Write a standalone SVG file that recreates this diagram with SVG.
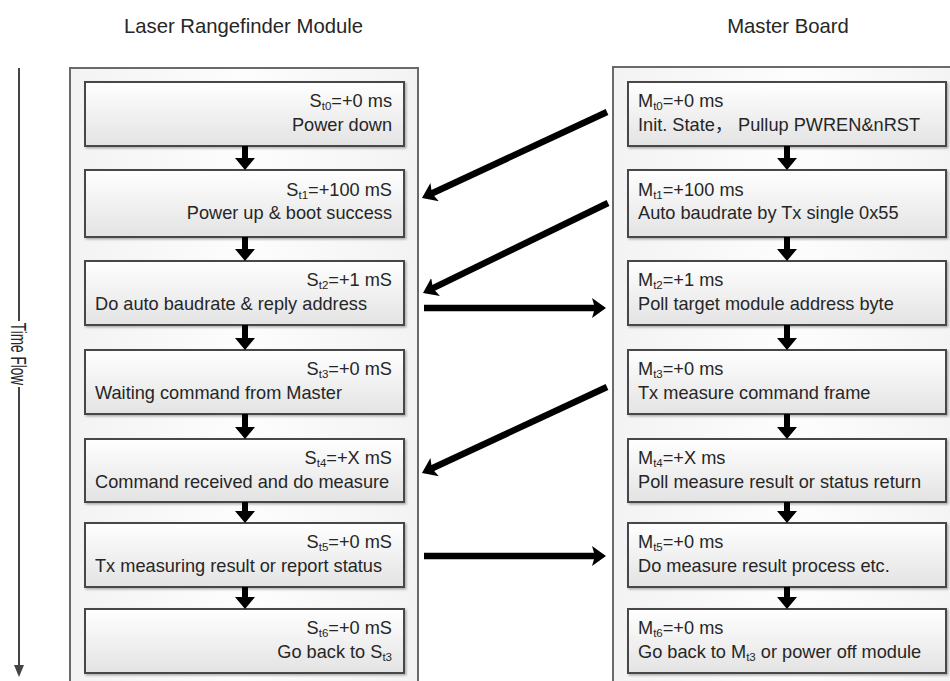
<svg xmlns="http://www.w3.org/2000/svg" width="950" height="681" viewBox="0 0 950 681">
<style>
.t{font-family:"Liberation Sans",Arial,"Noto Sans CJK SC",sans-serif;font-size:18.2px;fill:#262626}
.ttl{font-family:"Liberation Sans",Arial,sans-serif;font-size:20.3px;fill:#262626;text-anchor:middle}
.tf{font-family:"Liberation Sans",Arial,sans-serif;font-size:22px;fill:#262626;text-anchor:middle}
.sub{font-size:11.5px}
.r{text-anchor:end}
.node{fill:url(#ng);stroke:#474747;stroke-width:2;filter:url(#sh)}
.outer{fill:url(#og);stroke:#6a6a6a;stroke-width:2}
.conn{stroke:#000;stroke-width:6.5;fill:none;marker-end:url(#ah)}
.down{fill:#000}
</style>
<defs>
<linearGradient id="ng" x1="0" y1="0" x2="0" y2="1">
<stop offset="0" stop-color="#ffffff"/>
<stop offset="1" stop-color="#e3e3e3"/>
</linearGradient>
<linearGradient id="og" x1="0" y1="0" x2="1" y2="0">
<stop offset="0" stop-color="#f3f3f3"/>
<stop offset="0.5" stop-color="#fdfdfd"/>
<stop offset="1" stop-color="#f3f3f3"/>
</linearGradient>
<filter id="sh" x="-5%" y="-10%" width="110%" height="130%">
<feDropShadow dx="1.5" dy="1.5" stdDeviation="1" flood-color="#000" flood-opacity="0.3"/>
</filter>
<marker id="ah" markerUnits="userSpaceOnUse" markerWidth="16" markerHeight="22" refX="8" refY="10" orient="auto" viewBox="0 0 16 22">
<path d="M0,0 L14,10 L0,20 L3,10 z" fill="#000"/>
</marker>
</defs>

<rect width="950" height="681" fill="#ffffff"/>

<text class="ttl" x="243.5" y="33">Laser Rangefinder Module</text>
<text class="ttl" x="788" y="33">Master Board</text>

<g id="timeflow">
<line x1="19" y1="68" x2="19" y2="321" stroke="#444" stroke-width="2"/>
<line x1="19" y1="387" x2="19" y2="667" stroke="#444" stroke-width="2"/>
<path d="M14,665 L24,665 L19,677 z" fill="#444"/>
<text class="tf" transform="translate(19,354) rotate(90) scale(0.62,1)" dominant-baseline="central">Time Flow</text>
</g>

<rect id="module-frame" class="outer" x="70" y="68" width="348" height="640"/>
<rect id="master-frame" class="outer" x="613" y="67" width="360" height="640"/>

<g id="S0"><rect class="node" x="85" y="82" width="319" height="64"/>
<text class="t r" x="392" y="107">S<tspan class="sub" dy="3">t0</tspan><tspan dy="-3">=+0 ms</tspan></text>
<text class="t r" x="392" y="131">Power down</text></g>

<g id="S1"><rect class="node" x="85" y="170" width="319" height="67"/>
<text class="t r" x="392" y="196">S<tspan class="sub" dy="3">t1</tspan><tspan dy="-3">=+100 mS</tspan></text>
<text class="t r" x="392" y="219">Power up &amp; boot success</text></g>

<g id="S2"><rect class="node" x="85" y="261" width="319" height="64"/>
<text class="t r" x="392" y="286">S<tspan class="sub" dy="3">t2</tspan><tspan dy="-3">=+1 mS</tspan></text>
<text class="t" x="95" y="310">Do auto baudrate &amp; reply address</text></g>

<g id="S3"><rect class="node" x="85" y="350" width="319" height="64"/>
<text class="t r" x="392" y="375">S<tspan class="sub" dy="3">t3</tspan><tspan dy="-3">=+0 mS</tspan></text>
<text class="t" x="95" y="399">Waiting command from Master</text></g>

<g id="S4"><rect class="node" x="85" y="439" width="319" height="63"/>
<text class="t r" x="392" y="464">S<tspan class="sub" dy="3">t4</tspan><tspan dy="-3">=+X mS</tspan></text>
<text class="t" x="95" y="488">Command received and do measure</text></g>

<g id="S5"><rect class="node" x="85" y="523" width="319" height="64"/>
<text class="t r" x="392" y="548">S<tspan class="sub" dy="3">t5</tspan><tspan dy="-3">=+0 mS</tspan></text>
<text class="t" x="95" y="572">Tx measuring result or report status</text></g>

<g id="S6"><rect class="node" x="85" y="609" width="319" height="64"/>
<text class="t r" x="392" y="634">S<tspan class="sub" dy="3">t6</tspan><tspan dy="-3">=+0 mS</tspan></text>
<text class="t r" x="392" y="658">Go back to S<tspan class="sub" dy="3">t3</tspan></text></g>

<g id="M0"><rect class="node" x="628" y="82" width="318" height="64"/>
<text class="t" x="638" y="107">M<tspan class="sub" dy="3">t0</tspan><tspan dy="-3">=+0 ms</tspan></text>
<text class="t" x="638" y="131">Init. State，  Pullup PWREN&amp;nRST</text></g>

<g id="M1"><rect class="node" x="628" y="170" width="318" height="67"/>
<text class="t" x="638" y="196">M<tspan class="sub" dy="3">t1</tspan><tspan dy="-3">=+100 ms</tspan></text>
<text class="t" x="638" y="219">Auto baudrate by Tx single 0x55</text></g>

<g id="M2"><rect class="node" x="628" y="261" width="318" height="64"/>
<text class="t" x="638" y="286">M<tspan class="sub" dy="3">t2</tspan><tspan dy="-3">=+1 ms</tspan></text>
<text class="t" x="638" y="310">Poll target module address byte</text></g>

<g id="M3"><rect class="node" x="628" y="350" width="318" height="64"/>
<text class="t" x="638" y="375">M<tspan class="sub" dy="3">t3</tspan><tspan dy="-3">=+0 ms</tspan></text>
<text class="t" x="638" y="399">Tx measure command frame</text></g>

<g id="M4"><rect class="node" x="628" y="439" width="318" height="63"/>
<text class="t" x="638" y="464">M<tspan class="sub" dy="3">t4</tspan><tspan dy="-3">=+X ms</tspan></text>
<text class="t" x="638" y="488">Poll measure result or status return</text></g>

<g id="M5"><rect class="node" x="628" y="523" width="318" height="64"/>
<text class="t" x="638" y="548">M<tspan class="sub" dy="3">t5</tspan><tspan dy="-3">=+0 ms</tspan></text>
<text class="t" x="638" y="572">Do measure result process etc.</text></g>

<g id="M6"><rect class="node" x="628" y="609" width="318" height="64"/>
<text class="t" x="638" y="634">M<tspan class="sub" dy="3">t6</tspan><tspan dy="-3">=+0 ms</tspan></text>
<text class="t" x="638" y="658">Go back to M<tspan class="sub" dy="3">t3</tspan><tspan dy="-3"> or power off module</tspan></text></g>

<g id="connectors">
<path class="down" d="M242,146 h6 v12 h7 l-10,12 l-10,-12 h7 z"/>
<path class="down" d="M242,237 h6 v12 h7 l-10,12 l-10,-12 h7 z"/>
<path class="down" d="M242,325 h6 v13 h7 l-10,12 l-10,-12 h7 z"/>
<path class="down" d="M242,414 h6 v13 h7 l-10,12 l-10,-12 h7 z"/>
<path class="down" d="M242,502 h6 v9 h7 l-10,12 l-10,-12 h7 z"/>
<path class="down" d="M242,587 h6 v10 h7 l-10,12 l-10,-12 h7 z"/>
<path class="down" d="M784,146 h6 v12 h7 l-10,12 l-10,-12 h7 z"/>
<path class="down" d="M784,237 h6 v12 h7 l-10,12 l-10,-12 h7 z"/>
<path class="down" d="M784,325 h6 v13 h7 l-10,12 l-10,-12 h7 z"/>
<path class="down" d="M784,414 h6 v13 h7 l-10,12 l-10,-12 h7 z"/>
<path class="down" d="M784,502 h6 v9 h7 l-10,12 l-10,-12 h7 z"/>
<path class="down" d="M784,587 h6 v10 h7 l-10,12 l-10,-12 h7 z"/>
<line class="conn" x1="607" y1="112" x2="427.4" y2="195.5"/>
<line class="conn" x1="608" y1="203" x2="428.4" y2="290.4"/>
<line class="conn" x1="424" y1="308" x2="600" y2="308"/>
<line class="conn" x1="607" y1="387" x2="427.4" y2="470.5"/>
<line class="conn" x1="424" y1="556" x2="600" y2="556"/>
</g>
</svg>
